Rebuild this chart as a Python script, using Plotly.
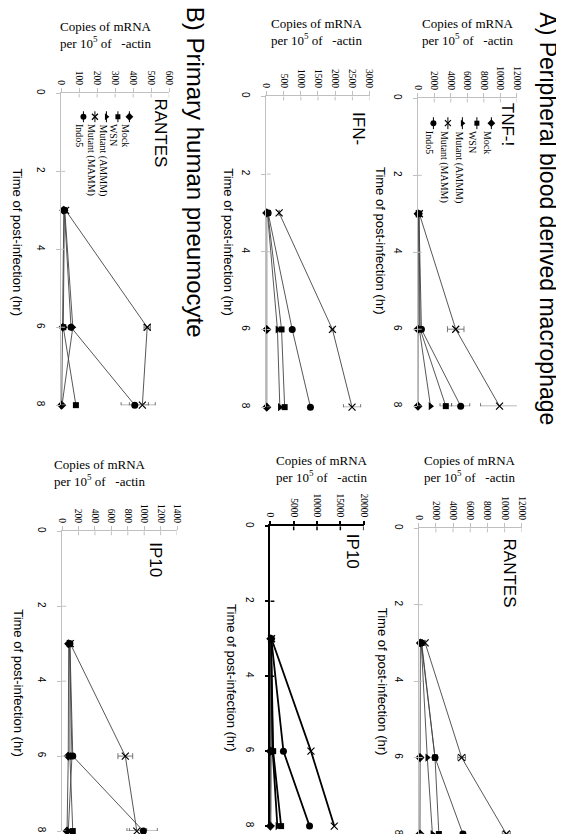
import plotly.graph_objects as go

W, H = 564, 834

# ---------------- data ----------------
time_hr = [3, 6, 8]
series_names = ["Mock", "WSN", "Mutant (AMMM)", "Mutant (MAMM)", "Indo5"]

# A) macrophage - TNF
tnf_mock = [50, 30, 30]
tnf_wsn = [150, 300, 3400]
tnf_ammm = [120, 200, 1550]
tnf_mamm = [200, 4600, 9900]
tnf_indo5 = [150, 450, 5200]
tnf_wsn_err = [None, None, 700]
tnf_mamm_err = [None, 1000, 2300]
tnf_indo5_err = [None, None, 1100]

# A) macrophage - IFN
ifn_mock = [10, 10, 10]
ifn_wsn = [40, 440, 530]
ifn_ammm = [30, 320, 390]
ifn_mamm = [370, 1920, 2490]
ifn_indo5 = [50, 750, 1280]
ifn_mamm_err = [None, 40, 250]

# A) macrophage - RANTES
rantes_a_mock = [200, 150, 150]
rantes_a_wsn = [350, 1900, 2350]
rantes_a_ammm = [300, 1000, 1600]
rantes_a_mamm = [750, 5000, 10200]
rantes_a_indo5 = [300, 1900, 5150]
rantes_a_wsn_err = [None, None, 200]
rantes_a_mamm_err = [None, 450, 470]
rantes_a_indo5_err = [None, None, 300]

# A) macrophage - IP10
ip10_a_mock = [100, 0, 0]
ip10_a_wsn = [150, 600, 2300]
ip10_a_ammm = [120, 500, 1500]
ip10_a_mamm = [250, 8700, 13700]
ip10_a_indo5 = [200, 2800, 8400]

# B) pneumocyte - RANTES
rantes_b_mock = [15, 10, 3]
rantes_b_wsn = [18, 12, 82]
rantes_b_ammm = [20, 65, 5]
rantes_b_mamm = [25, 478, 451]
rantes_b_indo5 = [18, 55, 409]
rantes_b_mamm_err = [None, 18, 72]
rantes_b_indo5_err = [None, None, 76]

# B) pneumocyte - IP10
ip10_b_mock = [80, 75, 60]
ip10_b_wsn = [95, 95, 130]
ip10_b_ammm = [90, 120, 75]
ip10_b_mamm = [100, 770, 910]
ip10_b_indo5 = [95, 130, 990]
ip10_b_mamm_err = [None, 90, 120]
ip10_b_indo5_err = [None, None, 170]

time_ticks = [0, 2, 4, 6, 8]

# ---------------- styling ----------------
SERIF = "Liberation Serif"
SANS = "Liberation Sans"
symbols = ["diamond", "square", "triangle-right", "x-thin", "circle"]
msizes = [7, 6, 7, 7, 7]

panels = [
    dict(vals=[tnf_mock, tnf_wsn, tnf_ammm, tnf_mamm, tnf_indo5],
         errs=[None, tnf_wsn_err, None, tnf_mamm_err, tnf_indo5_err],
         xmax=12000, dtick=2000, box=(412, 513, 87, 397), axc="#c0c0c0", lw=0.9, lc="#444444",
         title="TNF-!", tpos=(508, 121), ttl=(379, 238), cpos=(463, 20)),
    dict(vals=[ifn_mock, ifn_wsn, ifn_ammm, ifn_mamm, ifn_indo5],
         errs=[None, None, None, ifn_mamm_err, None],
         xmax=3000, dtick=500, box=(258, 363, 85, 398), axc="#c0c0c0", lw=0.9, lc="#444444",
         title="IFN-", tpos=(356, 126), ttl=(224, 239), cpos=(309, 20)),
    dict(vals=[rantes_b_mock, rantes_b_wsn, rantes_b_ammm, rantes_b_mamm, rantes_b_indo5],
         errs=[None, None, None, rantes_b_mamm_err, rantes_b_indo5_err],
         xmax=600, dtick=100, box=(49, 159, 82, 396), axc="#c0c0c0", lw=0.9, lc="#444444",
         title="RANTES", tpos=(155, 130), ttl=(9, 239), cpos=(95, 23)),
    dict(vals=[rantes_a_mock, rantes_a_wsn, rantes_a_ammm, rantes_a_mamm, rantes_a_indo5],
         errs=[None, rantes_a_wsn_err, None, rantes_a_mamm_err, rantes_a_indo5_err],
         xmax=12000, dtick=2000, box=(413, 518, 520, 828), axc="#c0c0c0", lw=0.9, lc="#444444",
         title="RANTES", tpos=(510, 573), ttl=(380, 682), cpos=(465, 460)),
    dict(vals=[ip10_a_mock, ip10_a_wsn, ip10_a_ammm, ip10_a_mamm, ip10_a_indo5],
         errs=[None, None, None, None, None],
         xmax=20000, dtick=5000, box=(262, 357, 518, 820), axc="#000000", lw=1.8, lc="#000000",
         title="IP10", tpos=(350, 552), ttl=(226, 678), cpos=(315, 460)),
    dict(vals=[ip10_b_mock, ip10_b_wsn, ip10_b_ammm, ip10_b_mamm, ip10_b_indo5],
         errs=[None, None, None, ip10_b_mamm_err, ip10_b_indo5_err],
         xmax=1400, dtick=200, box=(50, 167, 523, 825), axc="#c0c0c0", lw=0.9, lc="#444444",
         title="IP10", tpos=(150, 560), ttl=(9, 683), cpos=(89, 464)),
]

fig = go.Figure()
layout = dict(width=W, height=H, margin=dict(l=0, r=0, t=0, b=0), autosize=False,
              paper_bgcolor="white", plot_bgcolor="rgba(0,0,0,0)", showlegend=False)
annotations = []
shapes = []


def px(x):
    return x / W


def py(y):
    return 1 - y / H


def rot_text(text, cx, cy, size, family=SANS, yanchor="middle", ycorr=True):
    # empirical correction of the rendered position of 90-degree rotated annotations
    dx = -(2 + 0.17 * size)
    dy = -(4 + 0.25 * size) if ycorr else -3
    return dict(text=text, x=px(cx + dx), y=py(cy + dy), xref="paper", yref="paper",
                showarrow=False, textangle=90, xanchor="center", yanchor=yanchor,
                font=dict(family=family, size=size, color="black"))


for i, p in enumerate(panels, start=1):
    sx = "" if i == 1 else str(i)
    x0, x1, yt, yb = p["box"]
    axw = 1.5 if p["axc"] == "#000000" else 1
    copies_ticks = list(range(0, p["xmax"] + 1, p["dtick"]))
    layout["xaxis" + sx] = dict(
        domain=[px(x0), px(x1)], anchor="y" + sx, range=[0, p["xmax"]], side="top",
        tickmode="array", tickvals=copies_ticks,
        ticktext=[str(v) for v in copies_ticks],
        tickangle=90, tickfont=dict(family=SERIF, size=9.5, color="black"),
        showline=True, linecolor=p["axc"], linewidth=axw, ticks="outside", ticklen=4,
        tickcolor=p["axc"], tickwidth=axw, showgrid=False, zeroline=False, fixedrange=True)
    layout["yaxis" + sx] = dict(
        domain=[py(yb), py(yt)], anchor="x" + sx, range=[8, 0],
        tickmode="array", tickvals=time_ticks, ticktext=[str(t) for t in time_ticks],
        tickangle=90, tickfont=dict(family=SANS, size=10, color="black"),
        ticklabelstandoff=7,
        showline=True, linecolor=p["axc"], linewidth=axw, ticks="outside", ticklen=4,
        tickcolor=p["axc"], tickwidth=axw, showgrid=False, zeroline=False, fixedrange=True)
    # inner half of the crossing tick marks
    for v in copies_ticks[1:]:
        shapes.append(dict(type="line", xref="x" + sx, yref="y" + sx, x0=v, x1=v,
                           ysizemode="pixel", yanchor=0, y0=0, y1=-4,
                           line=dict(color=p["axc"], width=axw)))
    for t in time_ticks[1:]:
        shapes.append(dict(type="line", xref="x" + sx, yref="y" + sx, y0=t, y1=t,
                           xsizemode="pixel", xanchor=0, x0=0, x1=4,
                           line=dict(color=p["axc"], width=axw)))
    for k in range(5):
        err = p["errs"][k]
        tr = dict(
            x=p["vals"][k], y=time_hr, mode="lines+markers", name=series_names[k],
            xaxis="x" + sx, yaxis="y" + sx, cliponaxis=False,
            line=dict(color=p["lc"], width=p["lw"]),
            marker=dict(symbol=symbols[k], size=msizes[k], color="black",
                        line=dict(color="black", width=1.2 if symbols[k] == "x-thin" else 0)),
        )
        if err is not None:
            tr["error_x"] = dict(type="data", array=err, symmetric=True, color="#555555",
                                 thickness=0.8, width=3)
        fig.add_trace(go.Scatter(**tr))
    annotations.append(rot_text(p["title"], p["tpos"][0], p["tpos"][1], 17))
    annotations.append(rot_text("Time of post-infection (hr)", p["ttl"][0], p["ttl"][1], 13))
    annotations.append(dict(text="Copies of mRNA<br>per 10<sup>5</sup> of\u00a0\u00a0\u00a0-actin",
                            x=px(p["cpos"][0]), y=py(p["cpos"][1]),
                            xref="paper", yref="paper", showarrow=False,
                            xanchor="center", yanchor="middle", align="center",
                            font=dict(family=SERIF, size=13, color="black")))

# ---------------- legends (drawn on a pixel overlay axis) ----------------
layout["xaxis7"] = dict(domain=[0, 1], range=[0, W], visible=False, anchor="y7", fixedrange=True)
layout["yaxis7"] = dict(domain=[0, 1], range=[H, 0], visible=False, anchor="x7", fixedrange=True)

legends = [
    dict(x_first=487, step=-14.75, seg=(106, 118), text_y=121, fsize=10),
    dict(x_first=118.5, step=-11.7, seg=(100, 111), text_y=114, fsize=10),
]
for lg in legends:
    for k in range(5):
        lx = lg["x_first"] + k * lg["step"]
        s0, s1 = lg["seg"]
        fig.add_trace(go.Scatter(x=[lx, lx], y=[s0, s1], mode="lines", xaxis="x7", yaxis="y7",
                                 line=dict(color="black", width=1), hoverinfo="skip"))
        fig.add_trace(go.Scatter(x=[lx], y=[(s0 + s1) / 2], mode="markers", xaxis="x7", yaxis="y7",
                                 marker=dict(symbol=symbols[k], size=msizes[k] - 1, color="black",
                                             line=dict(color="black", width=1.2 if symbols[k] == "x-thin" else 0)),
                                 hoverinfo="skip"))
        annotations.append(rot_text(series_names[k], lx, lg["text_y"], lg["fsize"],
                                    family=SERIF, yanchor="top", ycorr=False))

annotations.append(rot_text("A) Peripheral blood derived macrophage", 551, 218, 23))
annotations.append(rot_text("B) Primary human pneumocyte", 192, 171.5, 24))

layout["annotations"] = annotations
layout["shapes"] = shapes
fig.update_layout(**layout)
fig.write_html("out.html")
